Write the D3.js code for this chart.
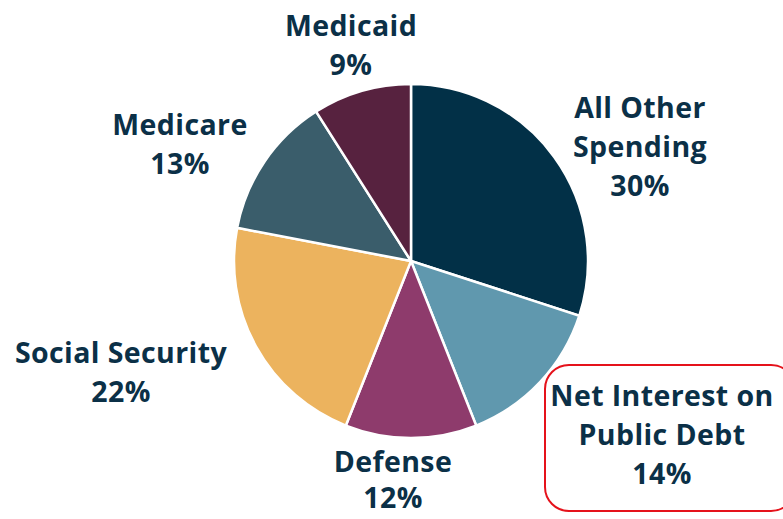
<!DOCTYPE html>
<html>
<head>
<meta charset="utf-8">
<script src="https://cdn.jsdelivr.net/npm/d3@7"></script>
<style>
  body { margin: 0; background: #fff; }
  svg text { font-family: "Open Sans", sans-serif; font-weight: 700; fill: #0b3047; }
</style>
</head>
<body>
<div id="root"></div>
<script>
const categories = ["All Other Spending", "Net Interest on Public Debt", "Defense", "Social Security", "Medicare", "Medicaid"];
const shares = [30, 14, 12, 22, 13, 9];
const colors = ["#023047", "#6098ae", "#8e3b6c", "#ecb35e", "#3a5d6b", "#57223f"];
const labelLines = [["All Other", "Spending"], ["Net Interest on", "Public Debt"], ["Defense"], ["Social Security"], ["Medicare"], ["Medicaid"]];
const labelPos = [[640, 118], [662, 406], [393, 472], [121, 363], [180, 135], [351, 36]];
const labelGaps = [39, 39, 36, 39, 39, 39];

const outerWidth = 783;
const outerHeight = 519;
const cx = 411, cy = 261, radius = 177;

let svg = d3.select("#root")
            .append("svg")
            .attr("width", outerWidth)
            .attr("height", outerHeight);

let pie = d3.pie().sort(null).value(d => d);
let arc = d3.arc().innerRadius(0).outerRadius(radius);

let chart = svg.append("g").attr("transform", `translate(${cx}, ${cy})`);

chart.selectAll(".slice")
     .data(pie(shares))
     .enter().append("path")
     .attr("class", "slice")
     .attr("d", arc)
     .attr("fill", (d, i) => colors[i])
     .attr("stroke", "#fff")
     .attr("stroke-width", 2.5);

// highlight box around net interest
svg.append("rect")
   .attr("x", 545).attr("y", 365)
   .attr("width", 250).attr("height", 146)
   .attr("rx", 24)
   .attr("fill", "none")
   .attr("stroke", "#e5121b")
   .attr("stroke-width", 2);

let labels = svg.selectAll(".label")
                .data(categories)
                .enter().append("text")
                .attr("class", "label")
                .attr("text-anchor", "middle")
                .style("font-size", "28.5px")
                .style("letter-spacing", "0.4px");

labels.each(function(d, i) {
    let t = d3.select(this);
    let lines = labelLines[i].concat([shares[i] + "%"]);
    lines.forEach((ln, j) => {
        t.append("tspan")
         .attr("x", labelPos[i][0])
         .attr("y", labelPos[i][1] + j * labelGaps[i])
         .text(ln);
    });
});
</script>
</body>
</html>
